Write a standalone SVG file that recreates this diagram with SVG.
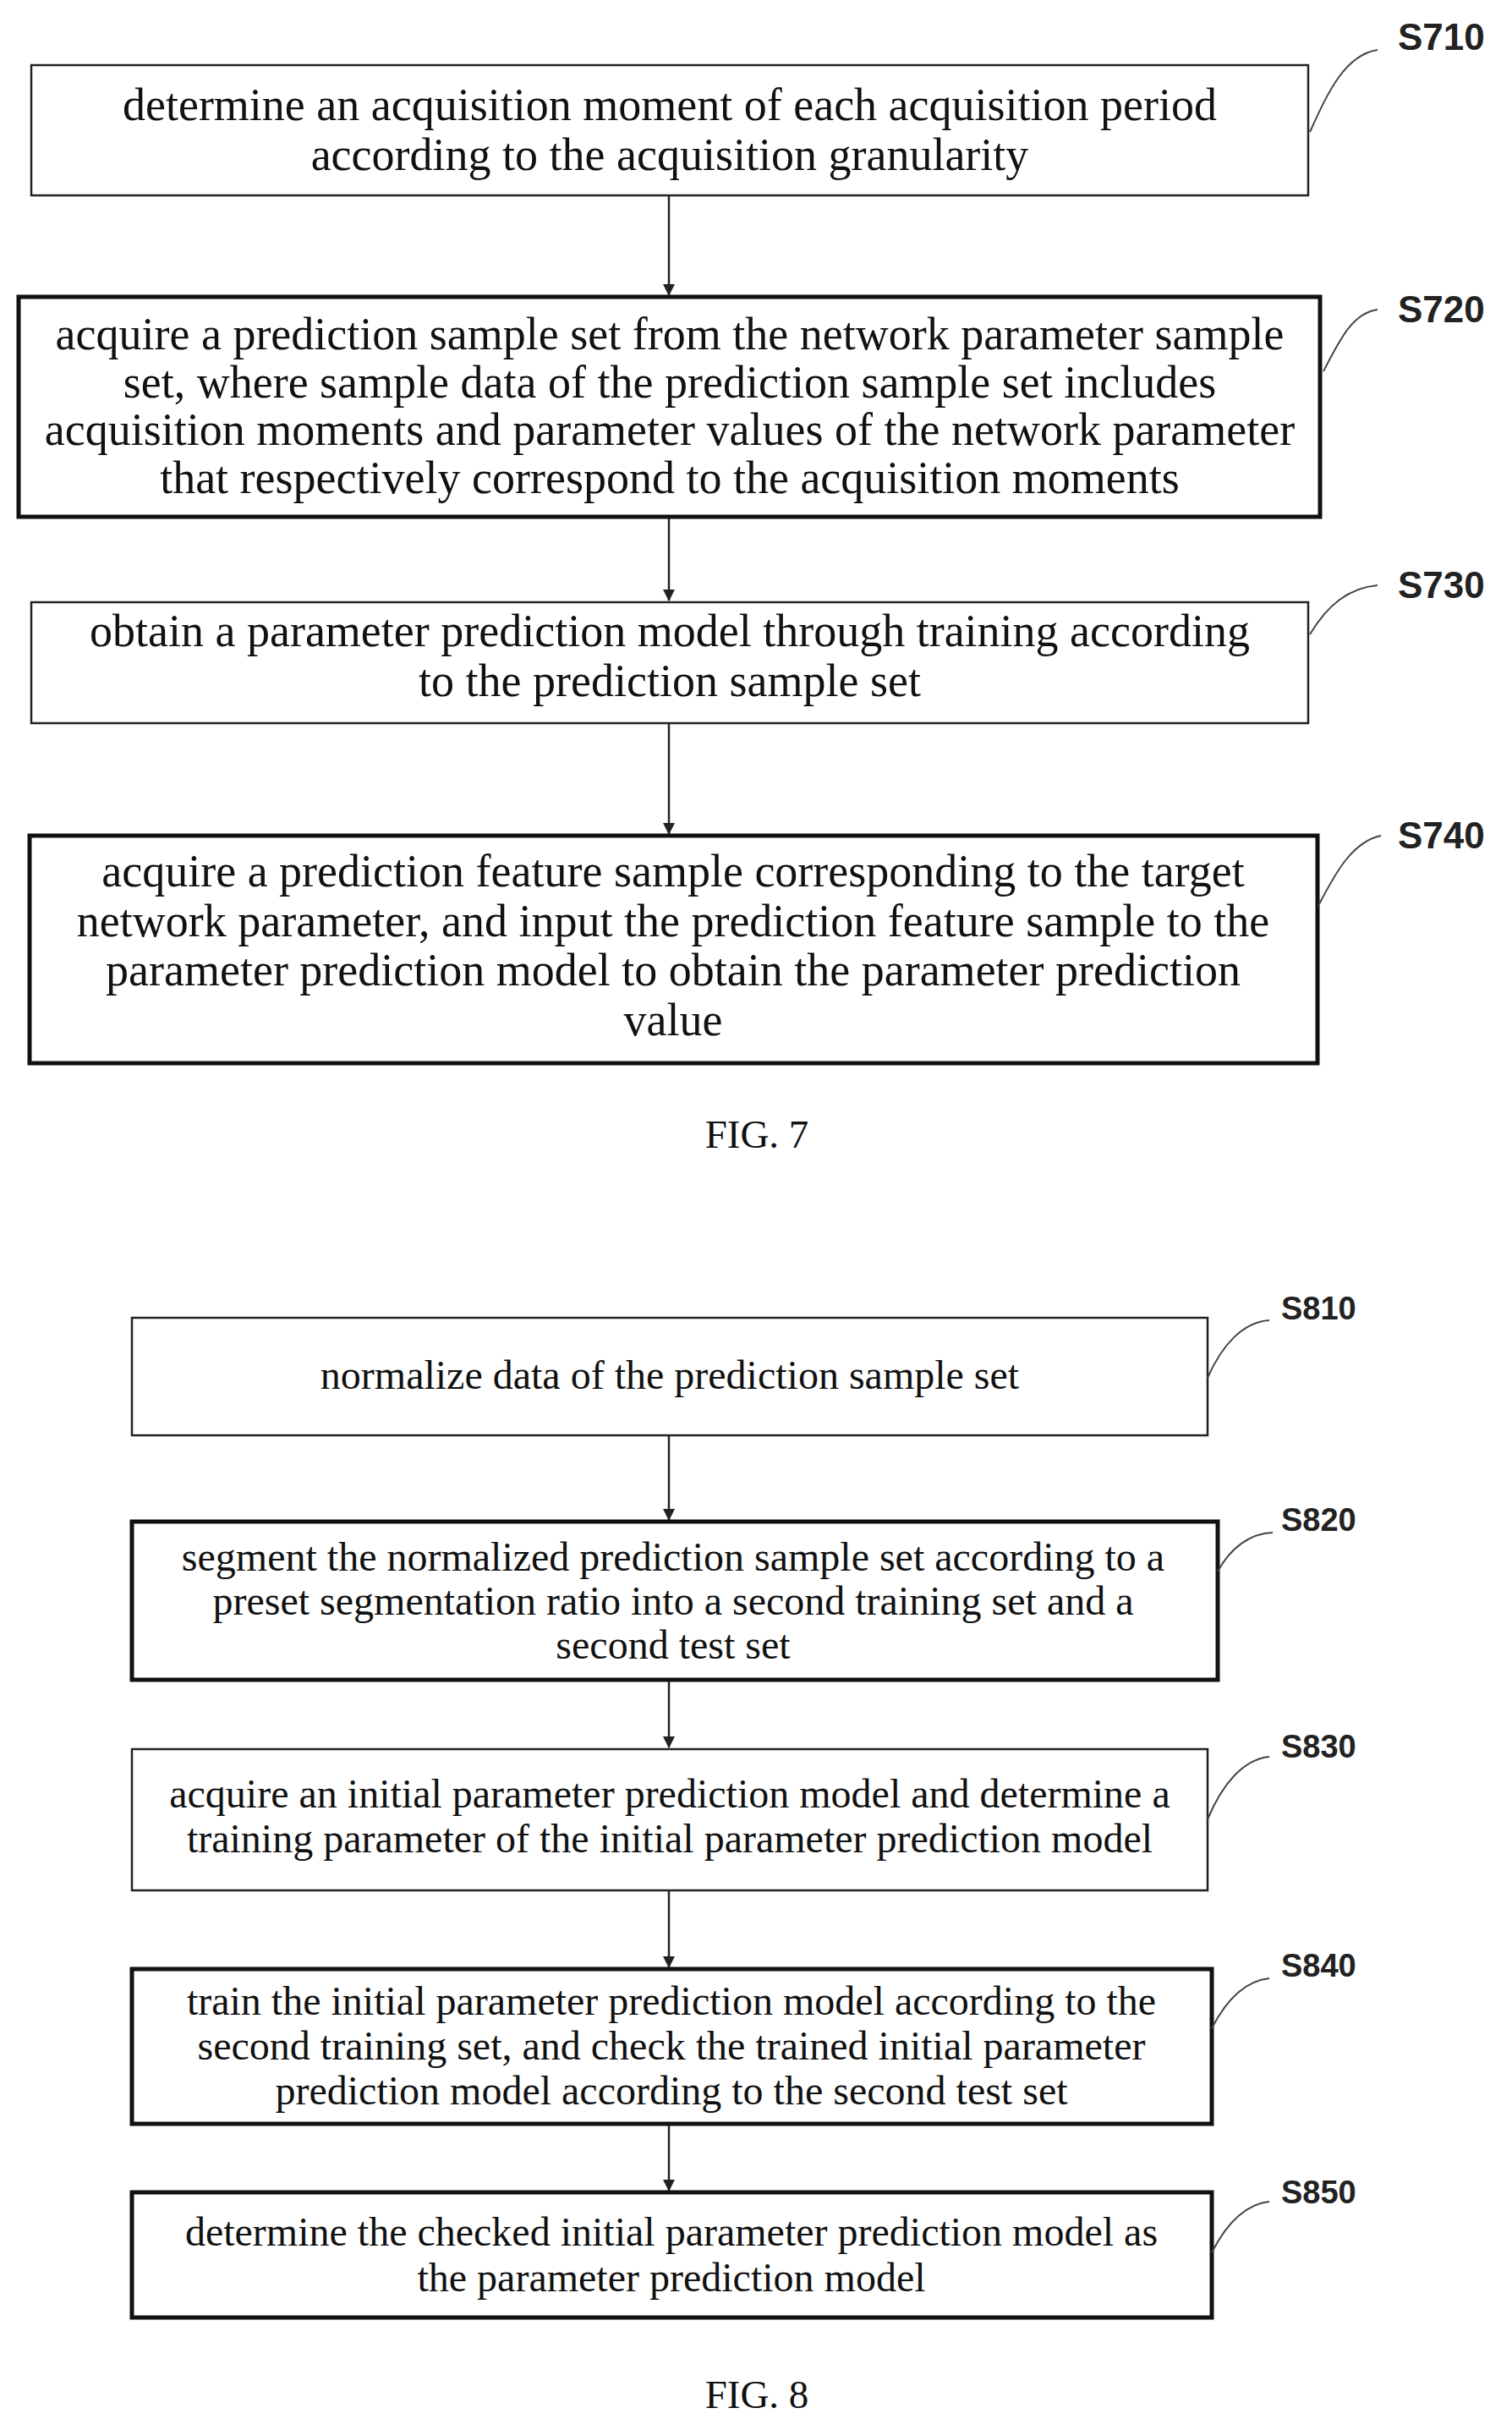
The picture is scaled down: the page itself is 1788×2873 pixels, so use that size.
<svg xmlns="http://www.w3.org/2000/svg" width="1788" height="2873" viewBox="0 0 1788 2873">
<style>
.b{fill:#fff;stroke:#222;stroke-width:2.5}
.k{fill:#fff;stroke:#111;stroke-width:5}
.t{font-family:"Liberation Serif",serif;font-size:54px;fill:#111;text-anchor:middle}
.t8{font-family:"Liberation Serif",serif;font-size:48px;fill:#111;text-anchor:middle}
.l{font-family:"Liberation Sans",sans-serif;font-size:44px;font-weight:bold;fill:#222}
.l8{font-family:"Liberation Sans",sans-serif;font-size:38px;font-weight:bold;fill:#222}
.c{fill:none;stroke:#444;stroke-width:2}
.a{stroke:#222;stroke-width:2.5;marker-end:url(#ah)}
.f{font-family:"Liberation Serif",serif;font-size:47px;fill:#111;text-anchor:middle}
</style>
<defs><marker id="ah" markerWidth="14" markerHeight="18" refX="13" refY="7" orient="auto" markerUnits="userSpaceOnUse"><path d="M0,0 L14,7 L0,14 Z" fill="#222"/></marker></defs>
<rect width="1788" height="2873" fill="#fff"/>
<g id="connectors">
<line class="a" x1="791" y1="231" x2="791" y2="349"/>
<line class="a" x1="791" y1="611" x2="791" y2="710"/>
<line class="a" x1="791" y1="855" x2="791" y2="986"/>
<line class="a" x1="791" y1="1697" x2="791" y2="1797"/>
<line class="a" x1="791" y1="1986" x2="791" y2="2066"/>
<line class="a" x1="791" y1="2235" x2="791" y2="2326"/>
<line class="a" x1="791" y1="2511" x2="791" y2="2590"/>
</g>
<g id="S710"><rect class="b" x="37" y="77" width="1510" height="154"/>
<text class="t" x="792" y="142">determine an acquisition moment of each acquisition period</text>
<text class="t" x="792" y="201">according to the acquisition granularity</text>
<path class="c" d="M1549,156 C1570,110 1590,65 1629,59"/><text class="l" x="1653" y="59">S710</text></g>
<g id="S720"><rect class="k" x="22" y="351" width="1539" height="260"/>
<text class="t" x="792" y="413">acquire a prediction sample set from the network parameter sample</text>
<text class="t" x="792" y="470">set, where sample data of the prediction sample set includes</text>
<text class="t" x="792" y="526">acquisition moments and parameter values of the network parameter</text>
<text class="t" x="792" y="583">that respectively correspond to the acquisition moments</text>
<path class="c" d="M1565,439 C1585,400 1600,370 1629,366"/><text class="l" x="1653" y="381">S720</text></g>
<g id="S730"><rect class="b" x="37" y="712" width="1510" height="143"/>
<text class="t" x="792" y="764">obtain a parameter prediction model through training according</text>
<text class="t" x="792" y="823">to the prediction sample set</text>
<path class="c" d="M1549,750 C1570,715 1595,695 1629,692"/><text class="l" x="1653" y="707">S730</text></g>
<g id="S740"><rect class="k" x="35" y="988" width="1523" height="269"/>
<text class="t" x="796" y="1048">acquire a prediction feature sample corresponding to the target</text>
<text class="t" x="796" y="1107">network parameter, and input the prediction feature sample to the</text>
<text class="t" x="796" y="1165">parameter prediction model to obtain the parameter prediction</text>
<text class="t" x="796" y="1224">value</text>
<path class="c" d="M1559,1071 C1580,1030 1600,995 1633,988"/><text class="l" x="1653" y="1003">S740</text></g>
<text class="f" x="895" y="1357">FIG. 7</text>
<g id="S810"><rect class="b" x="156" y="1558" width="1272" height="139"/>
<text class="t8" x="792" y="1642">normalize data of the prediction sample set</text>
<path class="c" d="M1428,1629 C1445,1590 1470,1563 1501,1561"/><text class="l8" x="1515" y="1560">S810</text></g>
<g id="S820"><rect class="k" x="156" y="1799" width="1284" height="187"/>
<text class="t8" x="796" y="1857">segment the normalized prediction sample set according to a</text>
<text class="t8" x="796" y="1909">preset segmentation ratio into a second training set and a</text>
<text class="t8" x="796" y="1961">second test set</text>
<path class="c" d="M1440,1858 C1455,1830 1478,1813 1505,1812"/><text class="l8" x="1515" y="1810">S820</text></g>
<g id="S830"><rect class="b" x="156" y="2068" width="1272" height="167"/>
<text class="t8" x="792" y="2137">acquire an initial parameter prediction model and determine a</text>
<text class="t8" x="792" y="2190">training parameter of the initial parameter prediction model</text>
<path class="c" d="M1428,2151 C1445,2110 1470,2080 1501,2077"/><text class="l8" x="1515" y="2078">S830</text></g>
<g id="S840"><rect class="k" x="156" y="2328" width="1277" height="183"/>
<text class="t8" x="794" y="2382">train the initial parameter prediction model according to the</text>
<text class="t8" x="794" y="2435">second training set, and check the trained initial parameter</text>
<text class="t8" x="794" y="2488">prediction model according to the second test set</text>
<path class="c" d="M1433,2398 C1450,2365 1472,2342 1501,2339"/><text class="l8" x="1515" y="2337">S840</text></g>
<g id="S850"><rect class="k" x="156" y="2592" width="1277" height="148"/>
<text class="t8" x="794" y="2655">determine the checked initial parameter prediction model as</text>
<text class="t8" x="794" y="2709">the parameter prediction model</text>
<path class="c" d="M1433,2663 C1450,2630 1472,2606 1501,2603"/><text class="l8" x="1515" y="2605">S850</text></g>
<text class="f" x="895" y="2847">FIG. 8</text>
</svg>
